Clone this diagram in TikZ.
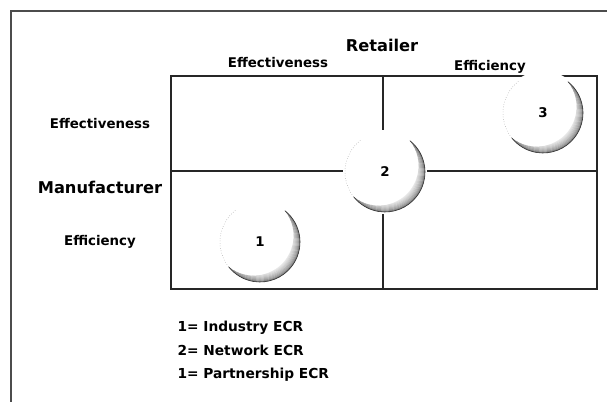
\documentclass[tikz,border=0pt]{standalone}
\usepackage{fontspec}
\setmainfont{DejaVu Sans}[BoldFont={DejaVu Sans Bold}]

\begin{document}
\begin{tikzpicture}[x=1bp,y=1bp,
  gridline/.style={line width=1.1bp, black!85},
  frameline/.style={line width=1.2bp, black!70},
  axislabel/.style={font=\bfseries\fontsize{13.4}{16}\selectfont},
  headlabel/.style={font=\bfseries\fontsize{16.3}{20}\selectfont},
  keylabel/.style={font=\bfseries\fontsize{13.8}{16}\selectfont, anchor=base west},
  numlabel/.style={font=\bfseries\fontsize{13.4}{16}\selectfont},
  % white disc with a grey crescent on its lower right rim
  moon/.pic={
    \fill[white] (0,0) circle (42);
    \begin{scope}
      \clip (51.47:40) arc (51.47:-141.45:40)
            [shift={(-6.364,6.364)}] arc (-128.53:38.55:40) -- cycle;
      \foreach \r/\c in {30/4,31/7,32/10,33/14,34/18,35/22,36/27,37/32,38/38,39/46,40/60}
        \draw[black!\c, line width=1.1bp] (0,0) circle (\r);
    \end{scope}
    \draw[black!80, line width=0.6bp] (51.47:40) arc (51.47:-141.45:40);
    \draw[dotted, black!40, line width=0.5bp] (128:40) arc (128:218:40);
    \node[numlabel] (-n) at (0,0) {#1};
  },
]
\useasboundingbox (0,0) rectangle (607,402);

% outer frame (top and left edges)
\coordinate (fTL) at (11,391);
\coordinate (fTR) at (607,391);
\coordinate (fBL) at (11,0);
\draw[frameline] (fTR) -- (fTL) -- (fBL);

% 2x2 matrix
\coordinate (gTL) at (171,326);
\coordinate (gTR) at (597,326);
\coordinate (gBL) at (171,113);
\coordinate (gBR) at (597,113);
\coordinate (gTM) at (383,326);
\coordinate (gBM) at (383,113);
\coordinate (gML) at (171,231);
\coordinate (gMR) at (597,231);
\draw[gridline] (gTL) rectangle (gBR);
\draw[gridline] (gTM) -- (gBM);
\draw[gridline] (gML) -- (gMR);

% axis headings
\node[headlabel] (retailer) at (382,357) {Retailer};
\node[axislabel] (rEff) at (278,339) {Effectiveness};
\node[axislabel] (rEffic) at (490,335) {Efficiency};
\node[axislabel] (mEff) at (100,278) {Effectiveness};
\node[headlabel] (manuf) at (100,215) {Manufacturer};
\node[axislabel] (mEffic) at (100,160) {Efficiency};

% ECR positions
\pic (m1) at (260,160) {moon=1};
\pic (m2) at (385,230) {moon=2};
\pic (m3) at (543,289) {moon=3};

% key
\node[keylabel] (k1) at (174,71) {1= Industry ECR};
\node[keylabel] (k2) at (174,47) {2= Network ECR};
\node[keylabel] (k3) at (174,24) {1= Partnership ECR};
\end{tikzpicture}
\end{document}
